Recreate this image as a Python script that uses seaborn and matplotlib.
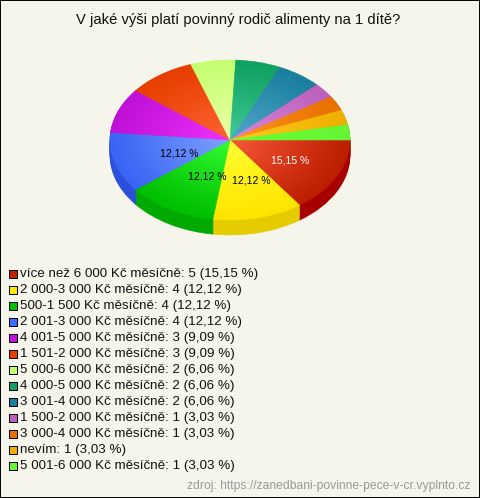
import matplotlib
matplotlib.use("Agg")
import matplotlib.pyplot as plt
import matplotlib.colors as mc
from matplotlib.patches import Rectangle
import numpy as np
import seaborn as sns

W, H = 480, 498
BG = "#F5F5EC"

title = "V jaké výši platí povinný rodič alimenty na 1 dítě?"
source = "zdroj: https://zanedbani-povinne-pece-v-cr.vyplnto.cz"
categories = ["více než 6 000 Kč měsíčně", "2 000-3 000 Kč měsíčně", "500-1 500 Kč měsíčně",
              "2 001-3 000 Kč měsíčně", "4 001-5 000 Kč měsíčně", "1 501-2 000 Kč měsíčně",
              "5 000-6 000 Kč měsíčně", "4 000-5 000 Kč měsíčně", "3 001-4 000 Kč měsíčně",
              "1 500-2 000 Kč měsíčně", "3 000-4 000 Kč měsíčně", "nevím", "5 001-6 000 Kč měsíčně"]
counts = [5, 4, 4, 4, 3, 3, 2, 2, 2, 1, 1, 1, 1]
percents = ["15,15", "12,12", "12,12", "12,12", "9,09", "9,09", "6,06", "6,06", "6,06",
            "3,03", "3,03", "3,03", "3,03"]
outer_colors = ["#BC1E00", "#FFE400", "#00BE00", "#3A64F4", "#C010D8", "#E83E00", "#C4FF70",
                "#10A060", "#1A7F9F", "#BB60BB", "#E87000", "#EEB000", "#66F433"]
inner_colors = ["#F85A38", "#FFFF33", "#33FF33", "#80A4FF", "#F033FF", "#FF6633", "#F0FFAA",
                "#44CC99", "#55AACC", "#DD88DD", "#FF9922", "#FFCC22", "#66FF33"]
side_colors = ["#A80000", "#E4CC00", "#00AA00", "#2A50DC", "#9010A0", "#B03000", "#A0D050",
               "#108050", "#106080", "#905090", "#B05000", "#B88800", "#44C022"]
legend_colors = ["#C02000", "#FFE800", "#00BE00", "#3A6CFF", "#C010D8", "#E83E00", "#C4FF70",
                 "#10A060", "#1A7F9F", "#BB60BB", "#E87000", "#EEB000", "#66F433"]

sns.set_theme(style="white")
plt.rcParams["font.family"] = ["Liberation Sans", "DejaVu Sans"]

fig = plt.figure(figsize=(W / 100, H / 100), dpi=100, facecolor=BG)


def px_axes(x0, y0, x1, y1):
    return fig.add_axes([x0 / W, 1 - y1 / H, (x1 - x0) / W, (y1 - y0) / H])


def seal(wedges):
    for w in wedges:
        w.set_edgecolor(w.get_facecolor())
        w.set_linewidth(0.4)


# ---- pie (elliptical, 120 x 80 px, 15 px deep) ----
RX, RY, DEPTH = 120.0, 80.0, 15.0
ax = px_axes(230 - RX, 140 - RY, 230 + RX, 140 + RY + DEPTH + 2)
ax.patch.set_alpha(0)
off = DEPTH / RY
for d in np.linspace(off, 0.01, 16):
    seal(ax.pie(counts, colors=side_colors, startangle=0, counterclock=False, radius=1,
                center=(0, -d))[0])

levels = np.linspace(1, 0.02, 40)
for r in levels:
    t = 1 - r
    cols = [mc.to_rgb(o) for o in outer_colors]
    inn = [mc.to_rgb(i) for i in inner_colors]
    mix = [tuple(a + (b - a) * t ** 1.1 for a, b in zip(o, i)) for o, i in zip(cols, inn)]
    seal(ax.pie(counts, colors=mix, startangle=0, counterclock=False, radius=r)[0])

wedge_angles = np.cumsum([0] + counts) / sum(counts) * 360
for i, p in enumerate(percents):
    if counts[i] >= 4:
        mid = np.deg2rad((wedge_angles[i] + wedge_angles[i + 1]) / 2)
        ax.annotate(f"{p} %", (0.5 * np.cos(mid), -0.5 * np.sin(mid)), xytext=(5, -1.5),
                    textcoords="offset points", ha="center", va="center",
                    fontsize=7.5, color="white" if i == 0 else "black", zorder=20)

ax.set_aspect("auto")
ax.set_xlim(-1, 1)
ax.set_ylim(-1 - (DEPTH + 2) / RY, 1)
ax.axis("off")

# ---- legend, one row per category ----
lax = px_axes(0, 266, W, 474)
lax.patch.set_alpha(0)
rows = list(range(len(categories)))
sns.scatterplot(x=[13] * len(rows), y=rows, hue=rows, palette=legend_colors, marker="s", s=40,
                edgecolor="black", linewidth=0.7, legend=False, ax=lax)
lax.set_xlim(0, W)
lax.set_ylim(len(rows) - 0.5, -0.5)
for i, (c, n, p) in enumerate(zip(categories, counts, percents)):
    lax.text(20, i, f"{c}: {n} ({p} %)", ha="left", va="center", fontsize=9.6, color="#111111")
lax.axis("off")

# ---- title, source, frame ----
fig.text(238 / W, 1 - 20 / H, title, ha="center", va="center", fontsize=10.6, color="#111111")
fig.text(470 / W, 1 - 486 / H, source, ha="right", va="center", fontsize=8.75, color="#999999")
fig.add_artist(Rectangle((0, 0), 1, 1, transform=fig.transFigure, fill=False,
                         edgecolor="black", linewidth=1.4))

fig.savefig("out.png", dpi=100, facecolor=BG)
